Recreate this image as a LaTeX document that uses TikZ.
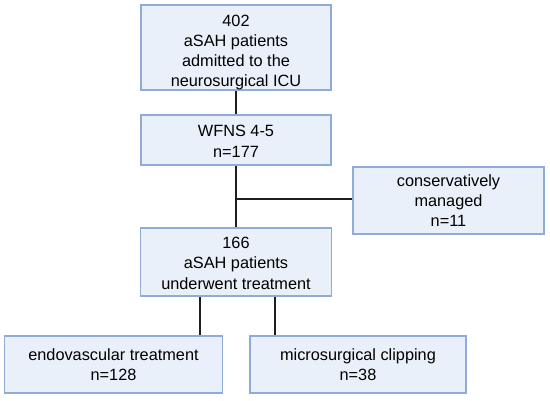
\documentclass[tikz,border=0pt]{standalone}
\usepackage{fontspec}
\setmainfont{Liberation Sans}
\definecolor{boxfill}{RGB}{233,240,250}
\definecolor{boxdraw}{RGB}{143,172,214}
\definecolor{linec}{RGB}{30,30,30}
\begin{document}
\begin{tikzpicture}[x=1pt,y=-1pt,
  box/.style={draw=boxdraw,fill=boxfill,line width=1.4pt,align=center,inner sep=0pt,
    font=\fontsize{16.3}{20.2}\selectfont},
  conn/.style={draw=linec,line width=1.3pt}]
\useasboundingbox (0,0) rectangle (550,400);
\node[box,minimum width=190pt,minimum height=85pt] (b1) at (236,47.5) {\rule{0pt}{21pt}402\\aSAH patients\\admitted to the\\neurosurgical ICU};
\node[box,minimum width=190pt,minimum height=50pt] (b2) at (236,140) {\rule{0pt}{14pt}WFNS 4-5\\n=177};
\node[box,minimum width=191pt,minimum height=67pt] (cons) at (448.5,200.5) {conservatively\\managed\\n=11};
\node[box,minimum width=191pt,minimum height=68pt] (b3) at (236,262) {\rule{0pt}{14pt}166\\aSAH patients\\underwent treatment};
\node[box,minimum width=218pt,minimum height=57pt] (endo) at (113.5,364.5) {endovascular treatment\\n=128};
\node[box,minimum width=216pt,minimum height=57pt] (micro) at (358,364.5) {microsurgical clipping\\n=38};
\coordinate (j) at (236,199);
\draw[conn] (b1.south) -- (b2.north);
\draw[conn] (b2.south) -- (b3.north);
\draw[conn] (j) -- (j -| cons.west);
\draw[conn] ([xshift=-36pt]b3.south) -- ([xshift=-36pt]b3.south |- endo.north);
\draw[conn] ([xshift=39pt]b3.south) -- ([xshift=39pt]b3.south |- micro.north);
\end{tikzpicture}
\end{document}
